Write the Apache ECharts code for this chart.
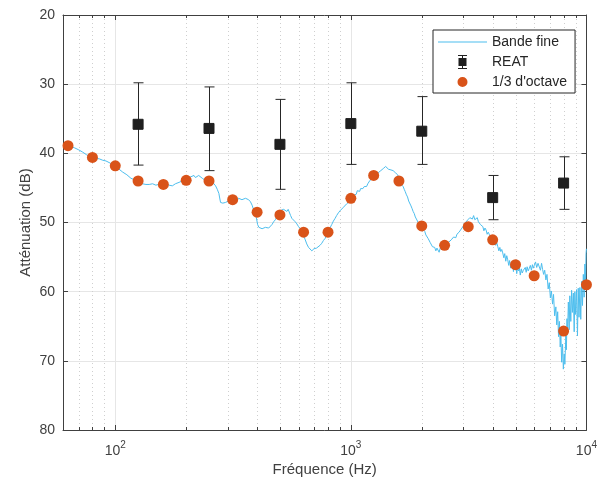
<!DOCTYPE html>
<html>
<head>
<meta charset="utf-8">
<script src="https://cdn.jsdelivr.net/npm/echarts@6/dist/echarts.min.js"></script>
<style>html,body{margin:0;padding:0;background:#fff}#c{width:600px;height:488px}</style>
</head>
<body>
<div id="c"></div>
<script>
// ---- Data ----
const fineFreq = [62.1,64.5,67.1,70,72.5,75.5,78.9,82,85.6,88.5,91.3,95,99,103,107.4,112,116.5,120,123.5,127,130.5,135,139.3,144,148.7,153,158.5,163.8,169,174.7,180,186.5,192,199,204,209,212,215.8,219,222.8,226,230.4,234,237.9,243,248,257.8,262,266.6,271,275.3,278,279.9,286,293.8,302,311.5,320,329,334,340,345,351.2,357,362.6,368,374.8,381,387,393,397,402,407,413.1,420,426,433.7,440,448,455,462.6,470,478.2,486,493.6,500,507,512,518.3,526,535.2,542,549.5,555,561.9,570,580.8,590,599.8,610,619.4,630,640.3,650,661.2,672,682.9,690,697,705.8,715,728.8,740,752.6,765,777.9,790,803.3,815,829.4,843,857.4,870,885.3,900,914.4,930,945.1,960,975.9,
992,1008,1020,1030,1042,1055,1065,1076,1090,1100,1111,1125,1140,1152,1166,1180,1192,1206,1220,1232,1245,1260,1275,1290,1307,1322,1340,1357,1373,1390,1405,1417,1430,1445,1465,1480,1495,1512,1530,1545,1562,1580,1594,1604,1620,1635,1650,1667,1685,1700,1722,1740,1760,1780,1800,1820,1838,1858,1878,1898,1920,1945,1970,1993,2015,2037,2060,2082,2105,2127,2150,2172,2196,2220,2245,2270,2295,2320,2344,2370,2395,2421,2450,2475,2502,2530,2555,2584,2610,2640,2669,2700,2730,2757,2790,2820,2848,2880,2920,2955,2991,3030,3065,3100,3140,3170,3200,3243,3280,3320,3360,3404,3440,3480,3518,3550,3590,3634,3670,3710,3752,3790,3830,3878,3920,3960,4004,4040,4080,4120,4160,4206,4250,4290,4330,4370,4414,4460,4500,4545,4590,4634,4680,4720,4770,4820,4865,4900,4940,4980,5024,5060,5100,5150,5193,5240,5290,5340,5400,5453,5500,5550,5600,5660,5724,5780,5840,5900,5950,6010,6080,6150,6230,6310,6380,6450,6516,6580,6650,6729,6800,6880,6956,7030,7100,7182,7250,7330,7417,7480,7550,7614,7680,7740,7787,7850,7917,7980,8049,8100,8176,8220,8270,8313,8380,8451,8500,8584,8650,8720,8800,8872,8930,9000,9080,9162,9230,9300,9380,9461,9540,9620,9700,9779,9850,9920,9960,10000];
const fineDb = [38.9,38.95,39.2,39.5,39.8,40.2,40.6,40.7,40.8,41.0,41.1,41.4,41.8,42.2,42.7,43.1,43.6,43.8,44.0,44.3,44.4,44.5,44.5,44.4,44.6,44.5,44.5,44.4,44.6,44.7,44.4,44.2,44.0,43.9,43.6,43.4,43.2,43.2,43.5,43.5,43.2,43.3,43.6,43.8,44.0,44.0,44.1,44.3,44.7,45.2,45.8,46.6,47.1,47.2,47.1,46.9,46.7,46.9,46.8,46.5,46.4,46.7,46.8,46.5,46.4,46.7,47.0,47.5,48.2,48.5,49.3,50.3,50.7,50.8,50.9,50.7,50.7,50.9,50.8,50.6,50.3,49.9,49.6,49.1,48.7,48.5,48.2,48.4,48.1,48.3,48.4,48.1,48.3,49.0,49.4,49.6,49.9,50.2,50.6,50.9,51.3,51.9,52.5,53.1,53.6,53.8,54.1,54.3,53.8,54.0,53.7,53.6,53.3,53.0,52.6,52.3,51.8,51.3,50.8,50.3,49.8,49.4,49.0,48.6,48.3,48.1,47.8,47.6,47.3,47.1,
46.9,46.5,46.6,46.1,46.0,45.9,45.4,45.4,45.5,45.1,45.2,45.1,44.8,45.0,44.8,44.4,44.5,43.9,44.0,43.6,43.3,43.6,43.1,43.2,42.8,42.9,42.5,42.6,42.2,42.4,41.9,42.0,41.8,42.3,42.1,42.4,42.2,42.5,42.4,42.8,42.9,43.1,43.5,43.9,44.0,44.5,44.4,44.8,45.2,45.5,46.0,46.3,46.9,47.0,47.6,48.0,48.4,48.7,49.2,49.5,49.7,50.2,50.3,50.5,50.9,51.0,51.3,51.8,51.9,52.3,52.5,52.9,53.0,53.5,53.3,53.6,54.1,53.7,53.9,54.3,53.7,53.6,53.9,53.3,53.4,53.5,53.1,53.2,52.8,52.9,52.5,52.6,52.1,52.0,52.2,51.7,51.9,51.4,51.1,51.3,50.6,50.5,50.0,50.2,49.6,49.8,49.3,49.2,49.5,49.0,49.6,49.4,49.3,49.9,49.7,50.3,50.4,50.6,51.2,50.8,51.1,51.7,51.4,51.8,52.4,52.0,52.5,53.2,52.7,53.3,52.9,53.5,54.1,53.6,54.2,53.9,54.4,55.1,54.5,55.6,54.8,55.4,56.2,55.5,56.6,55.7,56.1,57.1,56.0,56.8,56.3,57.4,56.5,57.0,56.6,57.6,56.7,57.3,56.9,57.1,56.5,57.2,56.4,57.0,56.6,56.2,56.9,56.1,56.6,56.2,55.7,56.5,55.9,56.1,56.9,55.9,56.8,57.5,56.9,58.3,57.5,59.6,58.7,60.9,59.9,61.8,60.4,63.5,62.2,64.8,62.9,66.5,64.3,68.0,66.0,70.2,67.6,71.2,69.0,70.5,66.4,68.4,63.9,66.2,61.5,65.5,60.6,64.3,59.8,63.0,60.2,65.8,60.0,63.3,59.7,66.4,59.5,63.7,59.4,64.0,58.5,62.0,57.5,60.8,56.0,58.5,54.5,53.8];

const thirdFreq = [63,80,100,125,160,200,250,315,400,500,630,800,1000,1250,1600,2000,2500,3150,4000,5000,6000,8000,10000];
const thirdDb   = [38.9,40.6,41.8,44.0,44.5,43.9,44.0,46.7,48.5,48.9,51.4,51.4,46.5,43.2,44.0,50.5,53.3,50.6,52.5,56.1,57.7,65.7,59.0];

const reatFreq = [125,250,500,1000,2000,4000,8000];
const reatDb   = [35.8,36.4,38.7,35.7,36.8,46.4,44.3];
const reatLow  = [29.8,30.4,32.2,29.8,31.8,43.2,40.5];
const reatHigh = [41.7,42.5,45.2,41.6,41.6,49.6,48.1];

const minorFreq = [70,80,90,200,300,400,500,600,700,800,900,2000,3000,4000,5000,6000,7000,8000,9000];
const yTicks = [20,30,40,50,60,70,80];

// ---- Chart ----
const FONT = 'Liberation Sans, Arial, Helvetica, sans-serif';
const AX = '#404040';
const chart = echarts.init(document.getElementById('c'), null, {renderer:'canvas'});

function zip(a, b){ return a.map((v,i)=>[v,b[i]]); }

// legend icons drawn in a 49x14 frame (tiny corner marks fix the frame size)
const FRAME = 'M0,0h0.01v0.01h-0.01Z M48.99,13.99h0.01v0.01h-0.01Z ';
const lineIcon = 'path://' + FRAME + 'M0,6.5H49V7.5H0Z';
const reatIcon = 'path://' + FRAME + 'M20,0H29V1H25V13H29V14H20V13H24V1H20Z M20.5,3H28.5V11H20.5Z';
const dotIcon  = 'path://' + FRAME + 'M29.5,7A5,5 0 1,1 19.5,7A5,5 0 1,1 29.5,7Z';

function isPow10(v){
  const e = Math.round(Math.log10(v));
  return Math.abs(v - Math.pow(10,e)) < 1e-6 * v ? e : null;
}

const option = {
  animation: false,
  backgroundColor: '#fff',
  grid: {left: 63, right: 11, top: 15, bottom: 58, containLabel: false},
  legend: {
    orient: 'vertical', left: 433, top: 30,
    itemWidth: 49, itemHeight: 14, itemGap: 6,
    padding: [5, 8, 4, 5],
    borderColor: '#262626', borderWidth: 1, backgroundColor: '#fff',
    textStyle: {fontFamily: FONT, fontSize: 14, color: '#262626'},
    data: [
      {name: 'Bande fine', icon: lineIcon},
      {name: 'REAT', icon: reatIcon},
      {name: "1/3 d'octave", icon: dotIcon}
    ]
  },
  xAxis: [{
    type: 'log', logBase: 10, min: 60, max: 10000,
    position: 'bottom',
    name: 'Fréquence (Hz)', nameLocation: 'middle', nameGap: 32, nameMoveOverlap: false,
    nameTextStyle: {fontFamily: FONT, fontSize: 15, color: '#404040'},
    axisLine: {show: true, lineStyle: {color: AX, width: 1}},
    axisTick: {show: true, inside: true, length: 5, lineStyle: {color: AX}},
    splitLine: {show: true, lineStyle: {color: '#e6e6e6', width: 1}},
    axisLabel: {
      margin: 8, color: '#404040', fontFamily: FONT, fontSize: 14,
      formatter: function(v){
        const e = isPow10(v);
        if (e === null) return '';
        return '{b|10}{s|' + e + '}';
      },
      rich: {
        b: {fontFamily: FONT, fontSize: 14, color: '#404040', padding: [6,0,0,0]},
        s: {fontFamily: FONT, fontSize: 10, color: '#404040', padding: [0,0,6,0]}
      }
    }
  }, {
    type: 'log', logBase: 10, min: 60, max: 10000,
    position: 'top',
    axisLine: {show: true, lineStyle: {color: AX, width: 1}},
    axisTick: {show: true, inside: true, length: 5, lineStyle: {color: AX}},
    axisLabel: {show: false},
    splitLine: {show: false}
  }],
  yAxis: [{
    type: 'value', inverse: true, min: 20, max: 80, interval: 10,
    position: 'left',
    name: 'Atténuation (dB)', nameLocation: 'middle', nameGap: 30, nameMoveOverlap: false,
    nameTextStyle: {fontFamily: FONT, fontSize: 15, color: '#404040'},
    axisLine: {show: true, lineStyle: {color: AX, width: 1}},
    axisTick: {show: true, inside: true, length: 5, lineStyle: {color: AX}},
    splitLine: {show: true, lineStyle: {color: '#e6e6e6', width: 1}},
    axisLabel: {margin: 8, color: '#404040', fontFamily: FONT, fontSize: 14,
      formatter: function(v){ return yTicks.indexOf(v) >= 0 ? String(v) : ''; }}
  }, {
    type: 'value', inverse: true, min: 20, max: 80, interval: 10,
    position: 'right',
    axisLine: {show: true, lineStyle: {color: AX, width: 1}},
    axisTick: {show: true, inside: true, length: 5, lineStyle: {color: AX}},
    axisLabel: {show: false},
    splitLine: {show: false}
  }],
  series: [
    {
      type: 'custom', name: 'minorgrid', silent: true, z: 1,
      xAxisIndex: 0, yAxisIndex: 0,
      data: minorFreq.map(f => [f, 50]),
      renderItem: function(params, api){
        const f = api.value(0);
        const top = api.coord([f, 20]);
        const bot = api.coord([f, 80]);
        const x = Math.round(top[0]) + 0.5;
        return {type: 'group', children: [
          {type: 'line', shape: {x1: x, y1: top[1], x2: x, y2: bot[1]},
           style: {stroke: '#cfcfcf', lineWidth: 1, lineDash: [1, 3]}},
          {type: 'line', shape: {x1: x, y1: bot[1], x2: x, y2: bot[1] - 3},
           style: {stroke: AX, lineWidth: 1}},
          {type: 'line', shape: {x1: x, y1: top[1], x2: x, y2: top[1] + 3},
           style: {stroke: AX, lineWidth: 1}}
        ]};
      }
    },
    {
      type: 'line', name: 'Bande fine', z: 3,
      data: zip(fineFreq, fineDb),
      symbol: 'none', showSymbol: false, silent: true,
      lineStyle: {color: '#4DBEEE', width: 1},
      itemStyle: {color: '#4DBEEE'}
    },
    {
      type: 'custom', name: 'REATerr', silent: true, z: 4,
      data: reatFreq.map((f,i) => [f, reatLow[i], reatHigh[i]]),
      renderItem: function(params, api){
        const f = api.value(0);
        const a = api.coord([f, api.value(1)]);
        const b = api.coord([f, api.value(2)]);
        const x = Math.round(a[0]) + 0.5;
        const st = {stroke: '#262626', lineWidth: 1};
        return {type: 'group', children: [
          {type: 'line', shape: {x1: x, y1: a[1], x2: x, y2: b[1]}, style: st},
          {type: 'line', shape: {x1: x - 5, y1: a[1], x2: x + 5, y2: a[1]}, style: st},
          {type: 'line', shape: {x1: x - 5, y1: b[1], x2: x + 5, y2: b[1]}, style: st}
        ]};
      }
    },
    {
      type: 'scatter', name: 'REAT', z: 5,
      data: zip(reatFreq, reatDb),
      symbol: 'rect', symbolSize: 10,
      itemStyle: {color: '#1f1f1f', borderColor: '#1f1f1f', opacity: 1}
    },
    {
      type: 'scatter', name: "1/3 d'octave", z: 6,
      data: zip(thirdFreq, thirdDb),
      symbol: 'circle', symbolSize: 11,
      itemStyle: {color: '#D95319', opacity: 1}
    }
  ]
};
chart.setOption(option);
</script>
</body>
</html>
